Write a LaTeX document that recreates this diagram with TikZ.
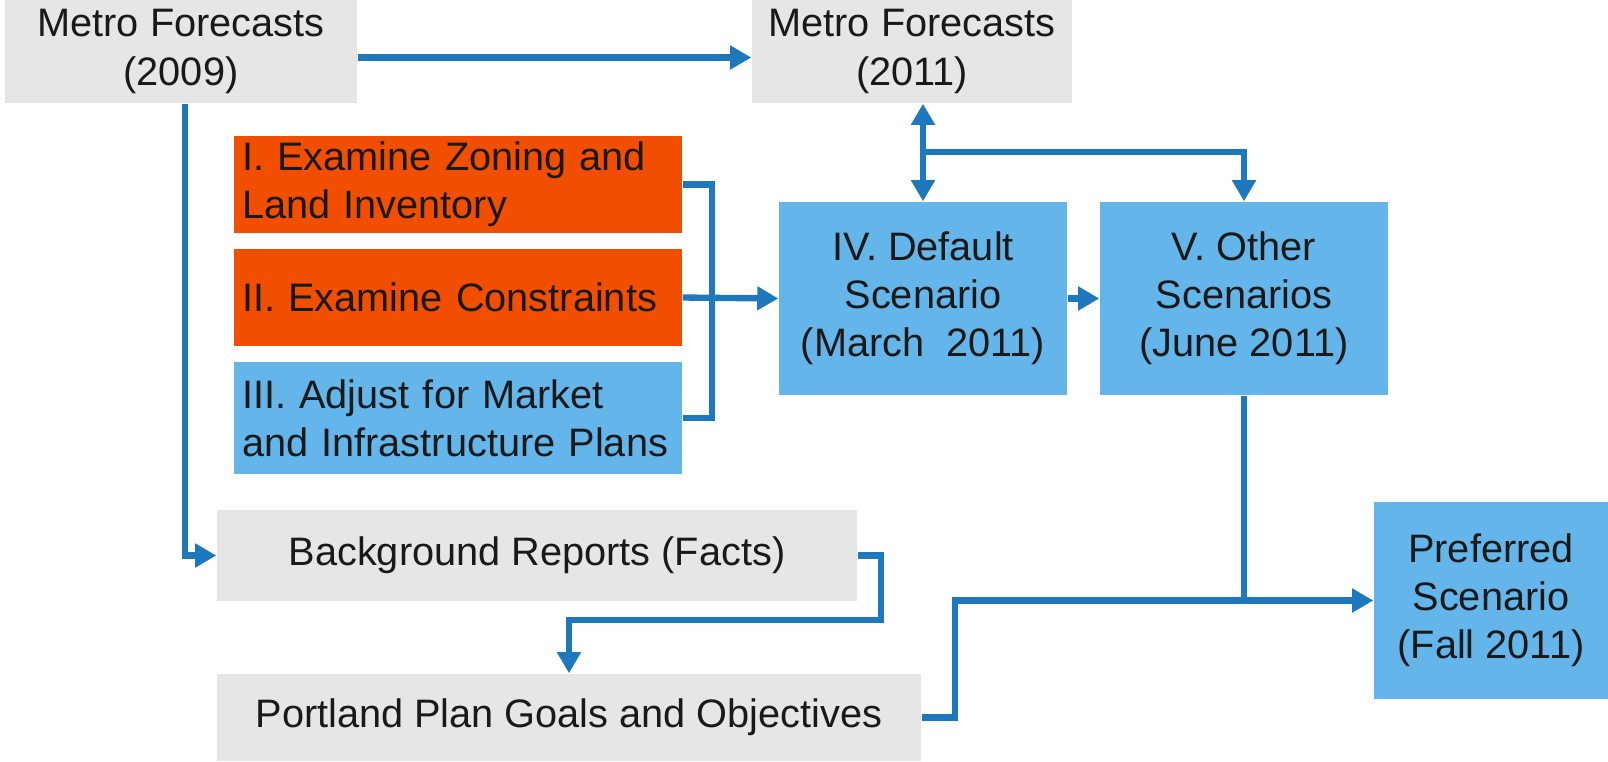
\documentclass[tikz,border=0pt]{standalone}
\usepackage{fontspec}
\setmainfont{Liberation Sans}
\usetikzlibrary{arrows.meta}

\definecolor{boxgrey}{HTML}{E6E6E6}
\definecolor{boxorange}{HTML}{F24E00}
\definecolor{boxblue}{HTML}{63B5EA}
\definecolor{flowblue}{HTML}{1E78BE}

\tikzset{
  box/.style={inner sep=0pt, align=center, text=black!90,
    font=\fontsize{11.3}{13.7}\selectfont},
  greybox/.style={box, fill=boxgrey},
  stepbox/.style={box, fill=#1, minimum width=4.48cm, text width=4.32cm, align=left},
  scenbox/.style={box, fill=boxblue, minimum width=2.88cm, minimum height=1.93cm},
  flow/.style={draw=flowblue, line width=1.8pt},
  tip/.style={-{Triangle[length=6pt,width=6.5pt]}},
}

\begin{document}
\begin{tikzpicture}
\useasboundingbox (0,0) rectangle (16.08,-7.61);

% forecasts
\node[greybox, minimum width=3.52cm, minimum height=1.03cm] (m09) at (1.81,-0.515) {Metro Forecasts\\(2009)};
\node[greybox, minimum width=3.20cm, minimum height=1.03cm] (m11) at (9.12,-0.515) {Metro Forecasts\\(2011)};

% steps I--III
\node[stepbox=boxorange, minimum height=0.97cm] (zon) at (4.58,-1.845) {I. Examine Zoning and\\Land Inventory};
\node[stepbox=boxorange, minimum height=0.97cm] (con) at (4.58,-2.975) {II. Examine Constraints};
\node[stepbox=boxblue, minimum height=1.12cm] (adj) at (4.58,-4.18) {III. Adjust for Market\\and Infrastructure Plans};

% scenarios
\node[scenbox] (def) at (9.23,-2.985) {IV. Default\\Scenario\\(March~~2011)};
\node[scenbox] (oth) at (12.44,-2.985) {V. Other\\Scenarios\\(June 2011)};
\node[box, fill=boxblue, minimum width=2.34cm, minimum height=1.97cm] (pref) at (14.91,-6.005) {Preferred\\Scenario\\(Fall 2011)};

% background
\node[greybox, minimum width=6.40cm, minimum height=0.91cm] (bg) at (5.37,-5.555) {Background Reports (Facts)};
\node[greybox, minimum width=7.04cm, minimum height=0.87cm] (goal) at (5.69,-7.175) {Portland Plan Goals and Objectives};

% connectors
\draw[flow, tip] ([yshift=-0.06cm]m09.east) -- ([yshift=-0.06cm]m11.west);
\draw[flow, tip] ([xshift=0.04cm]m09.south) |- (bg.west);

\coordinate (split) at (def.north |- 0,-1.52);
\draw[flow, tip] (split) -- (split |- m11.south);
\draw[flow, tip] (split) -- (def.north);
\draw[flow, tip] (split) -| (oth.north);

\draw[flow] (zon.east) -- ++(0.29,0) |- (adj.east);
\draw[flow, tip] (con.east) -- (def.west);
\draw[flow, tip] (def.east) -- (oth.west);

\draw[flow, tip] (bg.east) -- ++(0.23,0) -- ++(0,-0.645) -| (goal.north);
\draw[flow, tip] (goal.east) -- ++(0.33,0) |- (pref.west);
\coordinate (join) at (oth.south |- pref.west);
\draw[flow] (oth.south) -- (join);
\end{tikzpicture}
\end{document}
